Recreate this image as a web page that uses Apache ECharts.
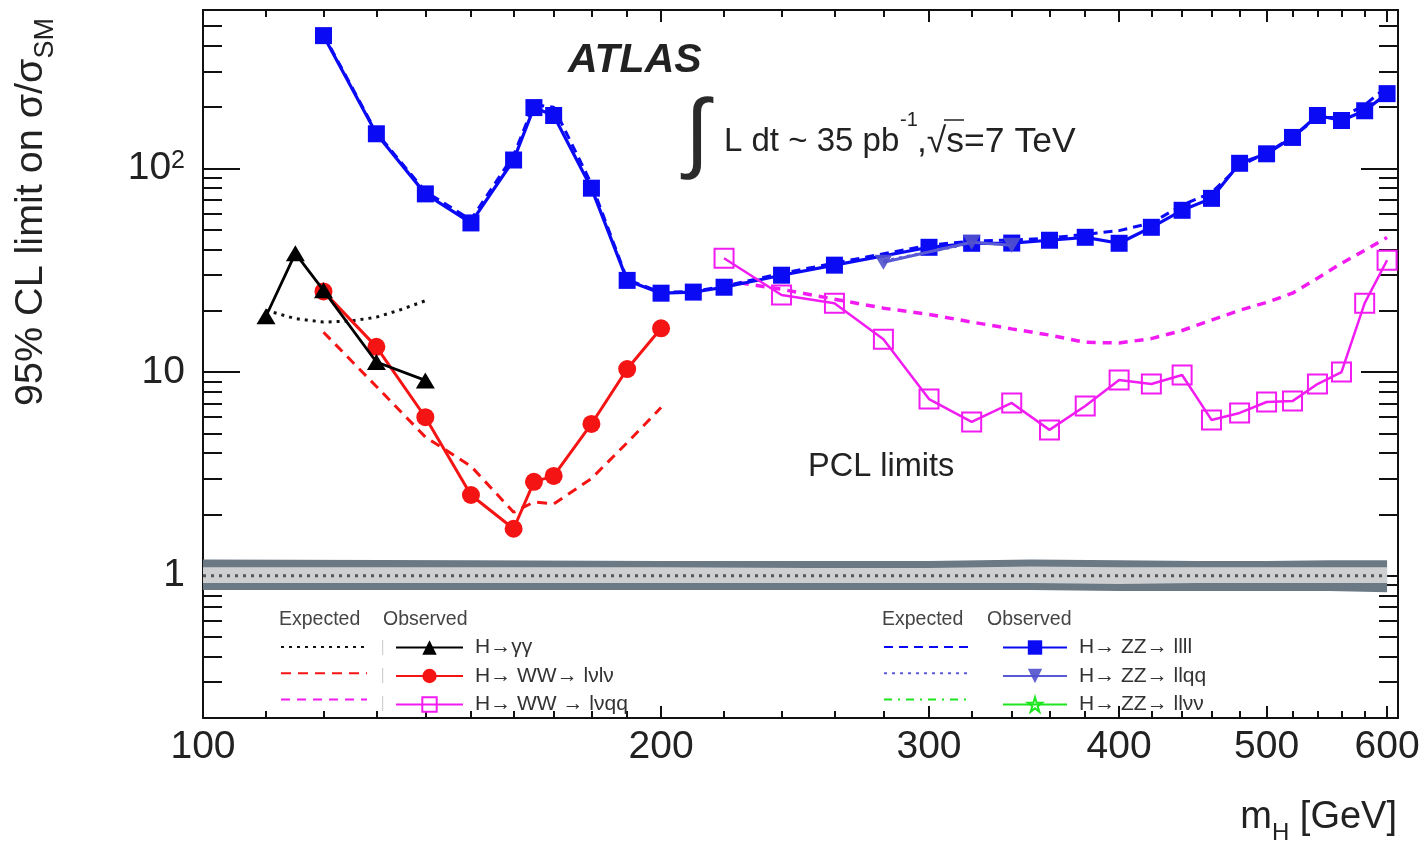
<!DOCTYPE html>
<html>
<head>
<meta charset="utf-8">
<script src="https://cdn.jsdelivr.net/npm/echarts@6/dist/echarts.min.js"></script>
<style>
  html, body { margin: 0; padding: 0; background: #fff; }
  #chart { width: 1426px; height: 843px; }
</style>
</head>
<body>
<div id="chart"></div>
<script>
// ---- axis ticks (GeV on x, sigma/sigma_SM on y) ----
const xMajorTicks = [100, 200, 300, 400, 500, 600];
const xMinorTicks = [110, 120, 130, 140, 150, 160, 170, 180, 190, 220, 240, 260, 280,
                     320, 340, 360, 380, 420, 440, 460, 480, 520, 540, 560, 580];
const yMajorTicks = [1, 10, 100];
const yMinorTicks = [0.3, 0.4, 0.5, 0.6, 0.7, 0.8, 0.9, 2, 3, 4, 5, 6, 7, 8, 9,
                     20, 30, 40, 50, 60, 70, 80, 90, 200, 300, 400, 500];

// ---- H -> gamma gamma ----
const massGG = [110, 115, 120, 130, 140];
const obsGG = [18.8, 38.3, 25.2, 11.2, 9.1];
const massGGExp = [110, 115, 120, 125, 130, 135, 140];
const expGG = [20.1, 18.3, 17.6, 17.8, 18.6, 20.3, 22.4];

// ---- H -> WW -> lvlv ----
const massLvlv = [120, 130, 140, 150, 160, 165, 170, 180, 190, 200];
const obsLvlv = [24.9, 13.3, 6.0, 2.49, 1.70, 2.89, 3.09, 5.56, 10.35, 16.4];
const expLvlv = [15.7, 8.5, 4.8, 3.45, 2.05, 2.3, 2.25, 3.0, 4.5, 6.7];

// ---- H -> WW -> lvqq ----
const massLvqq = [220, 240, 260, 280, 300, 320, 340, 360, 380, 400,
                  420, 440, 460, 480, 500, 520, 540, 560, 580, 600];
const obsLvqq = [36.2, 23.9, 21.8, 14.5, 7.37, 5.69, 7.05, 5.2, 6.81, 9.13,
                 8.73, 9.67, 5.82, 6.3, 7.13, 7.2, 8.73, 10.0, 21.8, 35.4];
const expLvqq = [28.2, 25.5, 22.8, 20.6, 19.2, 17.6, 16.3, 15.2, 14.0, 13.9,
                 14.6, 16.0, 18.0, 20.1, 22.0, 24.4, 28.9, 34.2, 39.6, 45.8];

// ---- H -> ZZ -> llll ----
const mass4l = [120, 130, 140, 150, 160, 165, 170, 180, 190, 200, 210, 220, 240, 260,
                300, 320, 340, 360, 380, 400, 420, 440, 460, 480, 500, 520, 540, 560, 580, 600];
const obs4l = [449, 148, 75, 54, 110, 199, 182, 80, 28.2, 24.4, 24.7, 26.1, 29.9, 33.5,
               41.0, 42.9, 43.0, 44.4, 45.9, 42.9, 51.4, 62.3, 71.3, 106, 118, 142, 182, 172, 192, 233];
const exp4l = [455, 150, 77, 56, 116, 206, 200, 84, 28.5, 24.6, 24.9, 26.4, 30.5, 34.3,
               42.0, 44.0, 44.5, 45.5, 47.5, 49.5, 54, 66, 76, 103, 119, 143, 178, 178, 205, 252];

// ---- H -> ZZ -> llqq ----
const massLlqq = [280, 320, 340];
const obsLlqq = [34.6, 43.4, 41.9];
const expLlqq = [35.0, 43.0, 42.5];

// ---- H -> ZZ -> llvv (legend only, no points in range) ----
const massLlvv = [];
const obsLlvv = [];
const expLlvv = [];

// ---- expected +-1 sigma / +-2 sigma band around 1 ----
const bandMass = [100, 150, 200, 250, 300, 350, 400, 450, 500, 550, 600];
const bandLo2 = [0.85, 0.85, 0.85, 0.85, 0.85, 0.85, 0.84, 0.84, 0.84, 0.84, 0.83];
const bandLo1 = [0.92, 0.92, 0.92, 0.92, 0.92, 0.92, 0.91, 0.92, 0.92, 0.92, 0.92];
const bandHi1 = [1.10, 1.10, 1.10, 1.09, 1.09, 1.11, 1.10, 1.10, 1.10, 1.10, 1.10];
const bandHi2 = [1.20, 1.19, 1.18, 1.18, 1.18, 1.20, 1.19, 1.18, 1.18, 1.19, 1.19];
const unityMass = [100, 600];
const unityVal = [1, 1];

const pts = (xs, ys) => xs.map((x, i) => [x, ys[i]]);

const FONT = 'Liberation Sans, Arial, Helvetica, sans-serif';
const BLUE = '#0a0af5';
const RED = '#f51414';
const MAGENTA = '#f21cf2';
const VIOLET = '#5a5ad6';
const GREEN = '#1ee61e';
const BAND_DARK = '#6b7985';
const BAND_LIGHT = '#cdcfd1';
const STAR = 'path://M50,0 L61,35 L98,35 L68,57 L79,91 L50,70 L21,91 L32,57 L2,35 L39,35 Z';

function xAxisDef(position, ticks, len, withLabels) {
  return {
    type: 'log', logBase: 10, min: 100, max: 610, position: position,
    axisLine: { show: !!withLabels || position === 'top', onZero: false,
                lineStyle: { color: '#111', width: 2 } },
    axisTick: { show: true, inside: true, length: len, customValues: ticks,
                lineStyle: { color: '#111', width: 2 } },
    axisLabel: withLabels ? {
      show: true, customValues: xMajorTicks, margin: 10,
      fontFamily: FONT, fontSize: 39, color: '#222'
    } : { show: false },
    splitLine: { show: false }, minorTick: { show: false }
  };
}
function yAxisDef(position, ticks, len, withLabels) {
  return {
    type: 'log', logBase: 10, min: 0.2, max: 600, position: position,
    axisLine: { show: !!withLabels || position === 'right', onZero: false,
                lineStyle: { color: '#111', width: 2 } },
    axisTick: { show: true, inside: true, length: len, customValues: ticks,
                lineStyle: { color: '#111', width: 2 } },
    axisLabel: withLabels ? {
      show: true, customValues: yMajorTicks, margin: 18,
      fontFamily: FONT, fontSize: 39, color: '#222',
      formatter: v => (Math.abs(v - 100) < 1e-6 ? '10{s|2}' : String(v)),
      rich: { s: { fontFamily: FONT, fontSize: 25, color: '#222', verticalAlign: 'top' } }
    } : { show: false },
    splitLine: { show: false }, minorTick: { show: false }
  };
}

function expSeries(name, xs, ys, color, width, dash, z) {
  return {
    name: name, type: 'line', data: pts(xs, ys), xAxisIndex: 0, yAxisIndex: 0,
    symbol: 'circle', symbolSize: 0, showSymbol: false,
    itemStyle: { color: color },
    lineStyle: { color: color, width: width, type: dash },
    z: z, silent: true
  };
}
function obsSeries(name, xs, ys, color, width, symbol, size, extra, z) {
  return Object.assign({
    name: name, type: 'line', data: pts(xs, ys), xAxisIndex: 0, yAxisIndex: 0,
    symbol: symbol, symbolSize: size, showSymbol: true,
    itemStyle: { color: color },
    lineStyle: { color: color, width: width },
    z: z, silent: true
  }, extra || {});
}

// the +-2 sigma (dark) and +-1 sigma (light) bands, drawn as two polygons
function renderBand(params, api) {
  if (params.dataIndex !== 0) return null;
  const poly = (lo, hi) => {
    const top = bandMass.map((m, i) => api.coord([m, hi[i]]));
    const bottom = bandMass.map((m, i) => api.coord([m, lo[i]])).reverse();
    return top.concat(bottom);
  };
  return {
    type: 'group',
    children: [
      { type: 'polygon', shape: { points: poly(bandLo2, bandHi2) }, style: { fill: BAND_DARK } },
      { type: 'polygon', shape: { points: poly(bandLo1, bandHi1) }, style: { fill: BAND_LIGHT } }
    ]
  };
}

const expNamesL = ['exp γγ', 'exp WW lνlν', 'exp WW lνqq'];
const obsNamesL = ['H→γγ', 'H→ WW→ lνlν', 'H→ WW → lνqq'];
const expNamesR = ['exp ZZ llll', 'exp ZZ llqq', 'exp ZZ llνν'];
const obsNamesR = ['H→ ZZ→ llll', 'H→ ZZ→ llqq', 'H→ ZZ→ llνν'];

const legendCommon = {
  orient: 'vertical', itemHeight: 18, selectedMode: false,
  textStyle: { fontFamily: FONT, fontSize: 21, color: '#333', padding: [0, 0, 0, 7] },
  padding: 0
};
// expected columns carry no text, so their rows are only as tall as the icon
const expLegend = (left, names) => Object.assign({}, legendCommon, {
  left: left, top: 638, itemWidth: 86, itemGap: 10, formatter: () => '',
  data: names.map(n => ({ name: n, itemStyle: { opacity: 0 } }))
});
const obsLegend = (left, width, names) => Object.assign({}, legendCommon, {
  left: left, top: 637, itemWidth: width, itemGap: 7.5, data: names
});

const headerStyle = (text) => ({
  text: text, font: '19.5px ' + FONT, fill: '#444', align: 'left', verticalAlign: 'middle'
});

const option = {
  animation: false,
  backgroundColor: '#fff',
  grid: { left: 203, right: 28, top: 10, bottom: 125, containLabel: false },
  xAxis: [
    xAxisDef('bottom', xMajorTicks, 12, true),
    xAxisDef('bottom', xMinorTicks, 7, false),
    xAxisDef('top', xMajorTicks, 12, false),
    xAxisDef('top', xMinorTicks, 7, false)
  ],
  yAxis: [
    yAxisDef('left', yMajorTicks, 37, true),
    yAxisDef('left', yMinorTicks, 19, false),
    yAxisDef('right', yMajorTicks, 37, false),
    yAxisDef('right', yMinorTicks, 19, false)
  ],
  legend: [
    expLegend(280, expNamesL),
    obsLegend(395, 67, obsNamesL),
    expLegend(883, expNamesR),
    obsLegend(1002, 64, obsNamesR)
  ],
  series: [
    {
      type: 'custom', xAxisIndex: 0, yAxisIndex: 0, silent: true, z: 1,
      data: pts(bandMass, bandHi2), renderItem: renderBand
    },
    {
      type: 'line', data: pts(unityMass, unityVal), symbol: 'none', silent: true,
      lineStyle: { color: '#555', width: 3, type: [3, 5] }, z: 2
    },
    // expected limits
    expSeries(expNamesL[0], massGGExp, expGG, '#111', 3, [3, 5], 3),
    expSeries(expNamesL[1], massLvlv, expLvlv, RED, 3, [10, 7], 3),
    expSeries(expNamesL[2], massLvqq, expLvqq, MAGENTA, 3.5, [9, 7], 3),
    expSeries(expNamesR[0], mass4l, exp4l, BLUE, 3, [9, 6], 3),
    expSeries(expNamesR[1], massLlqq, expLlqq, VIOLET, 3, [3, 5], 3),
    expSeries(expNamesR[2], massLlvv, expLlvv, GREEN, 3, [8, 6, 2, 6], 3),
    // observed limits
    obsSeries(obsNamesR[0], mass4l, obs4l, BLUE, 3.2, 'rect', 17, null, 4),
    obsSeries(obsNamesR[1], massLlqq, obsLlqq, VIOLET, 3, 'triangle', [18, 15],
      { symbolRotate: 180, itemStyle: { color: 'rgba(80,80,205,0.9)' } }, 5),
    obsSeries(obsNamesR[2], massLlvv, obsLlvv, GREEN, 3, STAR, 20,
      { itemStyle: { color: 'rgba(255,255,255,0)', borderColor: GREEN, borderWidth: 2 } }, 5),
    obsSeries(obsNamesL[1], massLvlv, obsLvlv, RED, 3, 'circle', 18, null, 6),
    obsSeries(obsNamesL[0], massGG, obsGG, '#000', 2.8, 'triangle', [19, 16], null, 7),
    obsSeries(obsNamesL[2], massLvqq, obsLvqq, MAGENTA, 2.5, 'rect', 19,
      { itemStyle: { color: 'rgba(255,255,255,0)', borderColor: MAGENTA, borderWidth: 2 } }, 8)
  ],
  graphic: [
    { type: 'text', x: 568, y: 61, z: 20, silent: true,
      style: { text: 'ATLAS', font: 'italic bold 41px ' + FONT, fill: '#222',
               align: 'left', verticalAlign: 'middle' } },
    { type: 'text', x: 697, y: 137, z: 20, silent: true,
      style: { text: '∫', font: '88px ' + FONT, fill: '#2a2a2a',
               align: 'center', verticalAlign: 'middle' } },
    { type: 'text', x: 724, y: 142, z: 20, silent: true,
      style: { text: 'L dt ~ 35 pb', font: '33px ' + FONT, fill: '#222',
               align: 'left', verticalAlign: 'middle' } },
    { type: 'text', x: 900, y: 120, z: 20, silent: true,
      style: { text: '-1', font: '20px ' + FONT, fill: '#222',
               align: 'left', verticalAlign: 'middle' } },
    { type: 'text', x: 917, y: 142, z: 20, silent: true,
      style: { text: ',√s=7 TeV', font: '35.5px ' + FONT, fill: '#222',
               align: 'left', verticalAlign: 'middle' } },
    { type: 'line', z: 20, silent: true,
      shape: { x1: 944, y1: 120, x2: 964, y2: 120 }, style: { stroke: '#222', lineWidth: 1.5 } },
    { type: 'text', x: 808, y: 467, z: 20, silent: true,
      style: { text: 'PCL limits', font: '32.5px ' + FONT, fill: '#222',
               align: 'left', verticalAlign: 'middle' } },
    // legend column headers
    { type: 'text', x: 279, y: 620, z: 20, silent: true, style: headerStyle('Expected') },
    { type: 'text', x: 383, y: 620, z: 20, silent: true, style: headerStyle('Observed') },
    { type: 'text', x: 882, y: 620, z: 20, silent: true, style: headerStyle('Expected') },
    { type: 'text', x: 987, y: 620, z: 20, silent: true, style: headerStyle('Observed') },
    // thin separators between the expected and observed columns
    { type: 'rect', z: 20, silent: true, shape: { x: 382, y: 640, width: 1.2, height: 15 }, style: { fill: '#cfcfcf' } },
    { type: 'rect', z: 20, silent: true, shape: { x: 382, y: 668, width: 1.2, height: 15 }, style: { fill: '#cfcfcf' } },
    { type: 'rect', z: 20, silent: true, shape: { x: 382, y: 696, width: 1.2, height: 15 }, style: { fill: '#cfcfcf' } },
    // axis titles
    { type: 'text', x: 31, y: 212, rotation: Math.PI / 2, z: 20, silent: true,
      style: { text: '95% CL limit on σ/σ{sub|SM}', font: '39.5px ' + FONT, fill: '#222',
               align: 'center', verticalAlign: 'middle',
               rich: { sub: { font: '27px ' + FONT, fill: '#222', verticalAlign: 'bottom', padding: [0, 0, -8, 0] } } } },
    { type: 'text', x: 1397, y: 818, z: 20, silent: true,
      style: { text: 'm{sub|H} [GeV]', font: '38px ' + FONT, fill: '#222',
               align: 'right', verticalAlign: 'middle',
               rich: { sub: { font: '24px ' + FONT, fill: '#222', verticalAlign: 'bottom', padding: [0, 0, -8, 0] } } } }
  ]
};

const chart = echarts.init(document.getElementById('chart'), null, { renderer: 'canvas' });
chart.setOption(option);
</script>
</body>
</html>
